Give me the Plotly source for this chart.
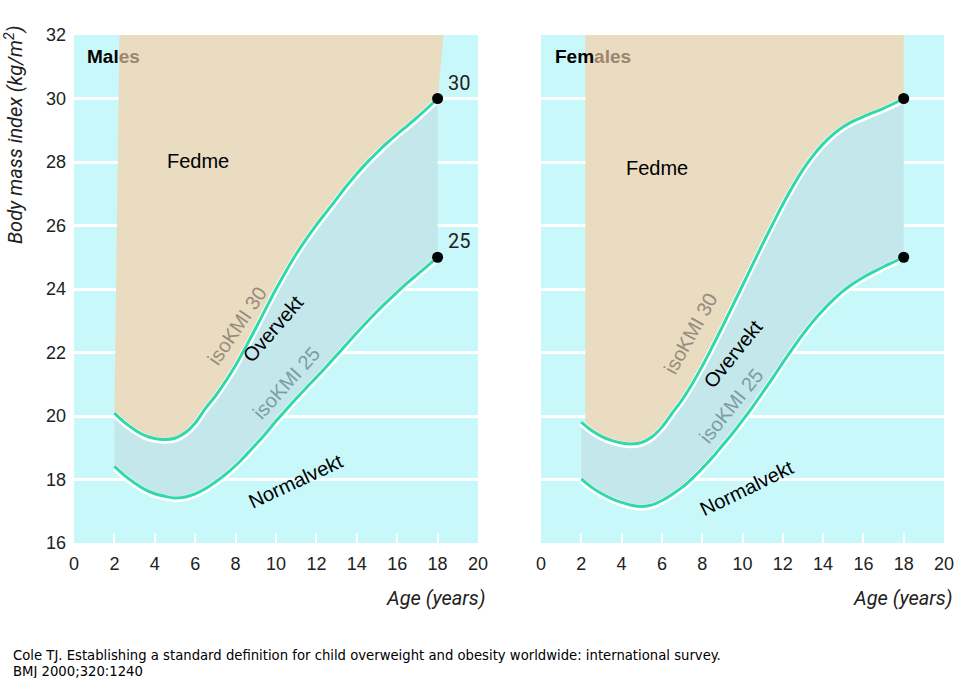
import plotly.graph_objects as go

# Cole et al. 2000 cut-offs (BMI, kg/m2) by age
ages = [2, 2.5, 3, 3.5, 4, 4.5, 5, 5.5, 6, 6.5, 7, 7.5, 8, 8.5, 9, 9.5, 10, 10.5,
        11, 11.5, 12, 12.5, 13, 13.5, 14, 14.5, 15, 15.5, 16, 16.5, 17, 17.5, 18]
male_25 = [18.41, 18.13, 17.89, 17.69, 17.55, 17.47, 17.42, 17.45, 17.55, 17.71, 17.92,
           18.16, 18.44, 18.76, 19.10, 19.46, 19.84, 20.20, 20.55, 20.89, 21.22, 21.56,
           21.91, 22.27, 22.62, 22.96, 23.29, 23.60, 23.90, 24.19, 24.46, 24.73, 25.00]
male_30 = [20.09, 19.80, 19.57, 19.39, 19.29, 19.26, 19.30, 19.47, 19.78, 20.23, 20.63,
           21.09, 21.60, 22.17, 22.77, 23.39, 24.00, 24.57, 25.10, 25.58, 26.02, 26.43,
           26.84, 27.25, 27.63, 27.98, 28.30, 28.60, 28.88, 29.14, 29.41, 29.70, 30.00]
female_25 = [18.02, 17.76, 17.56, 17.40, 17.28, 17.19, 17.15, 17.20, 17.34, 17.53, 17.75,
             18.03, 18.35, 18.69, 19.07, 19.45, 19.86, 20.29, 20.74, 21.20, 21.68, 22.14,
             22.58, 22.98, 23.34, 23.66, 23.94, 24.17, 24.37, 24.54, 24.70, 24.85, 25.00]
female_30 = [19.81, 19.55, 19.36, 19.23, 19.15, 19.12, 19.17, 19.34, 19.65, 20.08, 20.51,
             21.01, 21.57, 22.18, 22.81, 23.46, 24.11, 24.77, 25.42, 26.05, 26.67, 27.24,
             27.76, 28.20, 28.57, 28.87, 29.11, 29.29, 29.43, 29.56, 29.69, 29.84, 30.00]

x_ticks = [0, 2, 4, 6, 8, 10, 12, 14, 16, 18, 20]
y_ticks = [16, 18, 20, 22, 24, 26, 28, 30, 32]

BG = "#c9f8fa"
TAN = "#e9dcc0"
BAND = "#c4e7eb"
GREEN = "#2fd9ac"
NARROW = "Liberation Sans Narrow, Arial Narrow, Roboto, sans-serif"
ARIAL = "Liberation Sans, Arial, sans-serif"

fig = go.Figure()


def add_panel(xa, ya, o30, o25, tan_left_top, tan_right_top, tan_left_bottom):
    # obesity (tan) region above isoKMI 30
    tx = [tan_left_top, tan_right_top, ages[-1]] + ages[::-1]
    ty = [32, 32, o30[-1]] + o30[::-1]
    if tan_left_bottom is not None:
        tx = tx[:-1] + [tan_left_bottom[0]]
        ty = ty[:-1] + [tan_left_bottom[1]]
    fig.add_trace(go.Scatter(x=tx, y=ty, fill="toself", fillcolor=TAN, mode="none",
                             xaxis=xa, yaxis=ya, hoverinfo="skip", showlegend=False))
    # overweight band
    fig.add_trace(go.Scatter(x=ages + ages[::-1], y=o30 + o25[::-1], fill="toself",
                             fillcolor=BAND, mode="none", xaxis=xa, yaxis=ya,
                             hoverinfo="skip", showlegend=False))
    for ser in (o30, o25):
        fig.add_trace(go.Scatter(x=ages, y=[v - 0.04 for v in ser], mode="lines",
                                 line=dict(color="white", width=6, shape="spline"),
                                 xaxis=xa, yaxis=ya, hoverinfo="skip", showlegend=False))
        fig.add_trace(go.Scatter(x=ages, y=ser, mode="lines",
                                 line=dict(color=GREEN, width=3, shape="spline"),
                                 xaxis=xa, yaxis=ya, showlegend=False))
    fig.add_trace(go.Scatter(x=[ages[-1], ages[-1]], y=[o30[-1], o25[-1]], mode="markers",
                             marker=dict(color="black", size=11),
                             xaxis=xa, yaxis=ya, showlegend=False))


add_panel("x", "y", male_30, male_25, 2.25, 18.3, None)
add_panel("x2", "y2", female_30, female_25, 2.2, 18.0, (2.2, 19.7))

axis_common = dict(range=[0, 20], tickvals=x_ticks, showgrid=False, zeroline=False,
                   ticks="inside", tickcolor="white", ticklen=10, tickwidth=2,
                   tickfont=dict(family=ARIAL, size=18, color="#222"),
                   ticklabelstandoff=8, showline=False, fixedrange=True, automargin=False)
yaxis_common = dict(range=[16, 32], tickvals=y_ticks, showgrid=True, gridcolor="white",
                    gridwidth=2.5, zeroline=False, showline=False, ticks="",
                    tickfont=dict(family=ARIAL, size=18, color="#222"),
                    ticklabelstandoff=7, fixedrange=True, layer="below traces",
                    automargin=False)

fig.update_layout(
    width=960, height=678, margin=dict(l=0, r=0, t=0, b=0, autoexpand=False),
    paper_bgcolor="white", plot_bgcolor=BG, showlegend=False,
    xaxis=dict(domain=[74 / 960, 478 / 960], anchor="y", **axis_common),
    xaxis2=dict(domain=[541 / 960, 944 / 960], anchor="y2", **axis_common),
    yaxis=dict(domain=[1 - 543 / 678, 1 - 35 / 678], anchor="x", **yaxis_common),
    yaxis2=dict(domain=[1 - 543 / 678, 1 - 35 / 678], anchor="x2", showticklabels=False,
                **{k: v for k, v in yaxis_common.items() if k not in ("tickfont", "ticklabelstandoff")}),
)

ann = []


def t(x, y, text, xref, yref, size=20, color="black", angle=0, family=ARIAL, xanchor="center"):
    ann.append(dict(x=x, y=y, xref=xref, yref=yref, text=text, showarrow=False,
                    textangle=angle, font=dict(family=family, size=size, color=color),
                    xanchor=xanchor, yanchor="middle"))


# Males panel labels
t(0.54, 31.31, "<b>Mal<span style='color:#9c8670'>es</span></b>", "x", "y", size=19, xanchor="left")
t(6.14, 28.03, "Fedme", "x", "y", size=20)
t(8.07, 22.83, "isoKMI 30", "x", "y", size=20, color="#988c7e", angle=-56)
t(9.85, 22.74, "Overvekt", "x", "y", size=20, angle=-49)
t(10.50, 21.04, "isoKMI 25", "x", "y", size=20, color="#7d9ca1", angle=-48)
t(10.99, 17.95, "Normalvekt", "x", "y", size=20, angle=-25)
t(18.4, 30.49, "30", "x", "y", size=20, color="#222", family=NARROW, xanchor="left")
t(18.4, 25.51, "25", "x", "y", size=20, color="#222", family=NARROW, xanchor="left")

# Females panel labels
t(0.6, 31.31, "<b>Fem<span style='color:#9c8670'>ales</span></b>", "x2", "y2", size=19, xanchor="left")
t(5.76, 27.81, "Fedme", "x2", "y2", size=20)
t(7.44, 22.61, "isoKMI 30", "x2", "y2", size=20, color="#988c7e", angle=-61)
t(9.53, 21.95, "Overvekt", "x2", "y2", size=20, angle=-51)
t(9.43, 20.31, "isoKMI 25", "x2", "y2", size=20, color="#7d9ca1", angle=-51)
t(10.22, 17.73, "Normalvekt", "x2", "y2", size=20, angle=-26)

# Axis titles
t(14 / 960, 1 - 135 / 678, "<i>Body mass index (kg/m<sup>2</sup>)</i>", "paper", "paper",
  size=20, color="#222", angle=-90, family=NARROW)
t(488 / 960, 1 - 598 / 678, "<i>Age (years)</i>", "paper", "paper", size=20, color="#222",
  family=NARROW, xanchor="right")
t(955 / 960, 1 - 598 / 678, "<i>Age (years)</i>", "paper", "paper", size=20, color="#222",
  family=NARROW, xanchor="right")

# Citation
CITE_FONT = dict(family="DejaVu Sans Condensed, DejaVu Sans, sans-serif", size=14.7, color="black")
ann.append(dict(x=11 / 960, y=1 - 654 / 678, xref="paper", yref="paper", showarrow=False,
                xanchor="left", yanchor="middle",
                text="Cole TJ. Establishing a standard definition for child overweight and obesity worldwide: international survey.",
                font=CITE_FONT))
ann.append(dict(x=11 / 960, y=1 - 670 / 678, xref="paper", yref="paper", showarrow=False,
                xanchor="left", yanchor="middle", text="BMJ 2000;320:1240", font=CITE_FONT))

fig.update_layout(annotations=ann)
fig.write_html("out.html", config={"displayModeBar": False},
               post_script="document.body.style.margin='0px';")
